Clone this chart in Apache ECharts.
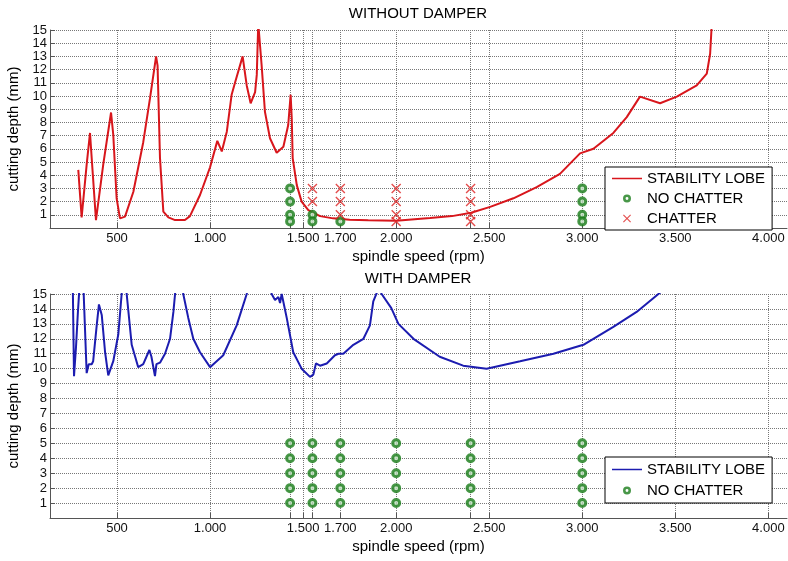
<!DOCTYPE html>
<html>
<head>
<meta charset="utf-8">
<script src="https://cdn.jsdelivr.net/npm/echarts@6/dist/echarts.min.js"></script>
<style>
  html, body { margin: 0; padding: 0; background: #fff; }
  #main { width: 788px; height: 561px; }
</style>
</head>
<body>
<div id="main"></div>
<script>
// stability lobe without damper: [rpm, depth mm]
var lobeNoDamper = [
  [292, 4.4], [310, 0.8], [337, 4.8], [355, 7.2], [364, 5.3], [387, 0.6], [426, 4.8],
  [468, 8.75], [480, 7.05], [498, 2.25], [516, 0.73], [543, 0.86], [588, 2.75], [641, 6.5],
  [677, 9.8], [710, 13.0], [718, 12.3], [731, 5.3], [749, 1.24], [776, 0.8], [812, 0.6],
  [865, 0.6], [892, 0.9], [946, 2.5], [1000, 4.6], [1039, 6.6], [1063, 5.8], [1090, 7.3],
  [1116, 10.1], [1134, 11.0], [1175, 13.0], [1197, 10.8], [1218, 9.45], [1242, 10.3],
  [1251, 11.6], [1259, 15.5], [1266, 15.5], [1277, 12.35], [1295, 8.8], [1322, 6.8],
  [1358, 5.7], [1394, 6.15], [1420, 7.8], [1433, 10.1], [1439, 8.3], [1444, 5.3],
  [1466, 3.25], [1492, 2.0], [1528, 1.36], [1591, 0.9], [1661, 0.73], [1750, 0.62],
  [1850, 0.58], [2000, 0.55], [2182, 0.75], [2300, 0.9], [2403, 1.15], [2505, 1.6],
  [2630, 2.25], [2755, 3.1], [2880, 4.1], [2988, 5.65], [3060, 6.0], [3167, 7.2],
  [3239, 8.4], [3310, 9.95], [3418, 9.45], [3508, 9.95], [3615, 10.8], [3669, 11.7],
  [3687, 13.2], [3696, 15.5]
];

// stability lobe with damper
var lobeDamper = [
  [262, 16], [269, 9.5], [280, 11.5], [290, 13.8], [301, 16], [306, 17], [318, 16],
  [337, 9.7], [348, 10.3], [364, 10.3], [372, 10.5], [391, 12.9], [403, 14.3], [412, 14.4],
  [418, 13.6], [436, 11.1], [453, 9.55], [480, 10.5], [507, 12.3], [525, 15], [530, 16.5],
  [545, 17], [552, 15], [579, 11.6], [614, 10.1], [641, 10.3], [674, 11.25], [685, 10.8],
  [704, 9.5], [712, 10.3], [731, 10.4], [758, 11.0], [785, 12.0], [803, 13.8], [812, 15],
  [820, 17], [845, 17], [856, 15], [883, 13.4], [910, 12.0], [946, 11.1], [1000, 10.1],
  [1071, 10.9], [1143, 12.9], [1197, 15], [1230, 17], [1300, 17], [1331, 15], [1349, 14.6],
  [1367, 14.8], [1376, 14.4], [1385, 15], [1412, 13.4], [1447, 11.1], [1492, 10.0],
  [1537, 9.45], [1555, 9.6], [1569, 10.35], [1591, 10.2], [1627, 10.35], [1671, 10.9],
  [1690, 11.0], [1716, 11.0], [1770, 11.6], [1824, 12.0], [1859, 12.9], [1877, 14.5],
  [1900, 15.2], [1915, 15.2], [1922, 15], [1974, 14.05], [2012, 13.0], [2093, 12.0],
  [2234, 10.8], [2360, 10.2], [2486, 10.0], [2666, 10.5], [2845, 11.0], [3006, 11.6],
  [3167, 12.8], [3292, 13.8], [3409, 15], [3450, 15.4]
];

// test cuts
var noChatterTop = [
  [1430, 3], [1430, 2], [1430, 1], [1430, 0.5], [1550, 1], [1550, 0.5], [1700, 0.5],
  [3000, 3], [3000, 2], [3000, 1], [3000, 0.5]
];
var chatterTop = [
  [1550, 3], [1550, 2], [1700, 3], [1700, 2], [1700, 1],
  [2000, 3], [2000, 2], [2000, 1], [2000, 0.5],
  [2400, 3], [2400, 2], [2400, 1], [2400, 0.5]
];
var noChatterBottom = [
  [1430, 1], [1430, 2], [1430, 3], [1430, 4], [1430, 5],
  [1550, 1], [1550, 2], [1550, 3], [1550, 4], [1550, 5],
  [1700, 1], [1700, 2], [1700, 3], [1700, 4], [1700, 5],
  [2000, 1], [2000, 2], [2000, 3], [2000, 4], [2000, 5],
  [2400, 1], [2400, 2], [2400, 3], [2400, 4], [2400, 5],
  [3000, 1], [3000, 2], [3000, 3], [3000, 4], [3000, 5]
];

var labelTicks = [500, 1000, 1500, 1700, 2000, 2500, 3000, 3500, 4000];
var gridTicks = [500, 1000, 1430, 1500, 1550, 1700, 2000, 2400, 2500, 3000, 3500, 4000];

var font = 'Liberation Sans, Arial, sans-serif';
var green = '#1a7d1a';
var crossPath = 'path://M0,1L1,0L5,4L9,0L10,1L6,5L10,9L9,10L5,6L1,10L0,9L4,5Z';
var lineIcon = 'path://M0,0L30,0L30,1.5L0,1.5Z';
var ringIcon = 'path://M0,5A5,5 0 1,1 10,5A5,5 0 1,1 0,5ZM3.2,5A1.8,1.8 0 1,0 6.8,5A1.8,1.8 0 1,0 3.2,5Z';

var fmtRpm = function (v) {
  if (v < 1000) return String(v);
  var rest = String(v % 1000);
  while (rest.length < 3) rest = '0' + rest;
  return Math.floor(v / 1000) + '.' + rest;
};

var makeX = function (idx) {
  return {
    type: 'value', gridIndex: idx, min: 140, max: 4100,
    name: 'spindle speed (rpm)', nameLocation: 'middle', nameGap: 21,
    nameTextStyle: { color: '#000', fontSize: 15, fontFamily: font },
    axisLine: { lineStyle: { color: '#555' } },
    axisTick: { inside: true, length: 5, customValues: gridTicks, lineStyle: { color: '#555' } },
    axisLabel: { customValues: labelTicks, formatter: fmtRpm, margin: 4,
      color: '#111', fontSize: 13, fontFamily: font },
    splitLine: { show: true, lineStyle: { type: 'dotted', color: '#777' } }
  };
};
var makeY = function (idx) {
  return {
    type: 'value', gridIndex: idx, min: 0, max: 15, interval: 1,
    name: 'cutting depth (mm)', nameLocation: 'middle', nameGap: 23,
    nameTextStyle: { color: '#000', fontSize: 15, fontFamily: font },
    axisLine: { show: true, lineStyle: { color: '#555' } },
    axisTick: { show: true, inside: true, length: 5, lineStyle: { color: '#555' } },
    axisLabel: { formatter: function (v) { return v === 0 ? '' : v; }, margin: 3,
      color: '#111', fontSize: 13, fontFamily: font },
    splitLine: { show: true, lineStyle: { type: 'dotted', color: '#777' } }
  };
};

var circleStyle = { color: '#bcdcbc', borderColor: green, borderWidth: 3 };
var legendText = { fontSize: 15, color: '#000', fontFamily: font };
var ringLegendStyle = { color: green, borderWidth: 0 };

var option = {
  backgroundColor: '#fff',
  animation: false,
  title: [
    { text: 'WITHOUT DAMPER', left: 418, top: 6, textAlign: 'center', padding: 0,
      textStyle: { fontSize: 15, fontWeight: 'normal', color: '#000', fontFamily: font } },
    { text: 'WITH DAMPER', left: 418, top: 271, textAlign: 'center', padding: 0,
      textStyle: { fontSize: 15, fontWeight: 'normal', color: '#000', fontFamily: font } }
  ],
  grid: [
    { left: 50, top: 30, width: 737, height: 198, outerBoundsMode: 'none' },
    { left: 50, top: 294, width: 737, height: 224, outerBoundsMode: 'none' }
  ],
  xAxis: [makeX(0), makeX(1)],
  yAxis: [makeY(0), makeY(1)],
  legend: [
    {
      data: [
        { name: 'STABILITY LOBE', icon: lineIcon },
        { name: 'NO CHATTER', icon: ringIcon, itemStyle: ringLegendStyle },
        { name: 'CHATTER' }
      ],
      orient: 'vertical', left: 605, top: 167, padding: [4, 7, 4, 7], itemGap: 5,
      itemWidth: 30, itemHeight: 8, borderColor: '#000', borderWidth: 1, borderRadius: 0,
      backgroundColor: '#fff', textStyle: legendText,
      formatter: function (n) { return n.split('|')[0]; }
    },
    {
      data: [
        { name: 'STABILITY LOBE|b', icon: lineIcon },
        { name: 'NO CHATTER|b', icon: ringIcon, itemStyle: ringLegendStyle }
      ],
      orient: 'vertical', left: 605, top: 457, padding: [5, 7, 5, 7], itemGap: 6,
      itemWidth: 30, itemHeight: 8, borderColor: '#000', borderWidth: 1, borderRadius: 0,
      backgroundColor: '#fff', textStyle: legendText,
      formatter: function (n) { return n.split('|')[0]; }
    }
  ],
  series: [
    { name: 'STABILITY LOBE', type: 'line', xAxisIndex: 0, yAxisIndex: 0, data: lobeNoDamper,
      showSymbol: false, symbol: 'none', color: '#d8161c', lineStyle: { width: 2, color: '#d8161c' } },
    { name: 'NO CHATTER', type: 'scatter', xAxisIndex: 0, yAxisIndex: 0, data: noChatterTop,
      symbol: 'circle', symbolSize: 7, itemStyle: circleStyle, z: 3 },
    { name: 'CHATTER', type: 'scatter', xAxisIndex: 0, yAxisIndex: 0, data: chatterTop,
      symbol: crossPath, symbolSize: 10, itemStyle: { color: '#dd2222' }, z: 3 },
    { name: 'STABILITY LOBE|b', type: 'line', xAxisIndex: 1, yAxisIndex: 1, data: lobeDamper,
      showSymbol: false, symbol: 'none', color: '#1c1cb0', lineStyle: { width: 2, color: '#1c1cb0' } },
    { name: 'NO CHATTER|b', type: 'scatter', xAxisIndex: 1, yAxisIndex: 1, data: noChatterBottom,
      symbol: 'circle', symbolSize: 7, itemStyle: circleStyle, z: 3 }
  ]
};

var myChart = echarts.init(document.getElementById('main'));
myChart.setOption(option);
</script>
</body>
</html>
